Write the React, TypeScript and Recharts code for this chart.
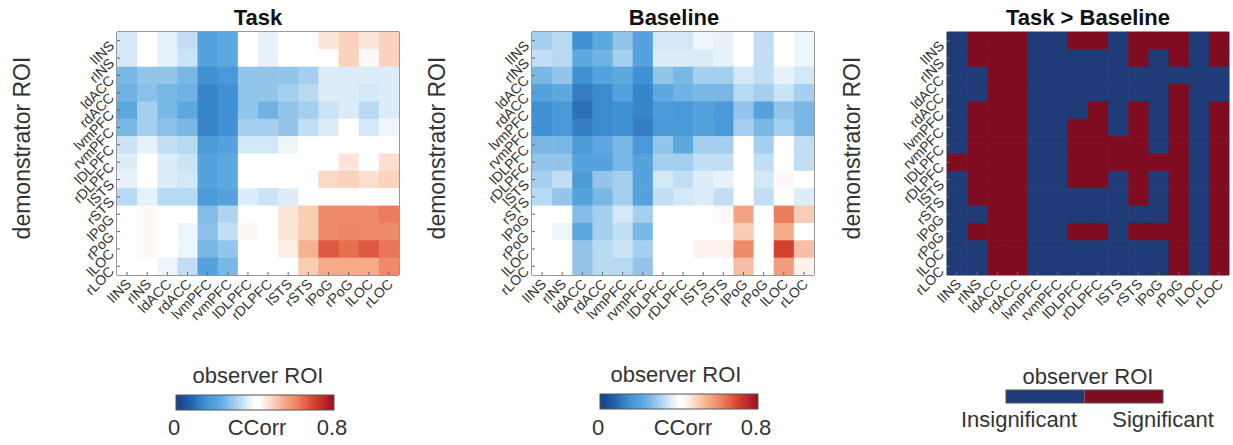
import React from 'react';
import { ScatterChart, Scatter, XAxis, YAxis, ReferenceArea } from 'recharts';

const ROIS = ['lINS', 'rINS', 'ldACC', 'rdACC', 'lvmPFC', 'rvmPFC', 'lDLPFC', 'rDLPFC', 'lSTS', 'rSTS', 'lPoG', 'rPoG', 'lLOC', 'rLOC'];

// rows = demonstrator ROI, columns = observer ROI (CCorr, 0..0.8)
const TASK = [
  [0.35, 0.40, 0.37, 0.33, 0.20, 0.22, 0.40, 0.37, 0.40, 0.40, 0.46, 0.49, 0.46, 0.49],
  [0.35, 0.40, 0.37, 0.34, 0.20, 0.22, 0.40, 0.37, 0.40, 0.40, 0.42, 0.49, 0.43, 0.49],
  [0.25, 0.28, 0.28, 0.25, 0.15, 0.17, 0.28, 0.28, 0.28, 0.30, 0.36, 0.36, 0.36, 0.36],
  [0.24, 0.27, 0.25, 0.24, 0.13, 0.15, 0.28, 0.28, 0.30, 0.32, 0.36, 0.36, 0.35, 0.36],
  [0.22, 0.30, 0.25, 0.22, 0.13, 0.15, 0.28, 0.24, 0.28, 0.30, 0.34, 0.36, 0.32, 0.36],
  [0.25, 0.30, 0.27, 0.25, 0.13, 0.15, 0.30, 0.30, 0.28, 0.33, 0.36, 0.40, 0.35, 0.38],
  [0.34, 0.37, 0.33, 0.32, 0.18, 0.20, 0.35, 0.35, 0.38, 0.40, 0.40, 0.40, 0.40, 0.40],
  [0.36, 0.40, 0.36, 0.34, 0.20, 0.22, 0.40, 0.40, 0.40, 0.40, 0.40, 0.46, 0.42, 0.47],
  [0.37, 0.40, 0.36, 0.35, 0.20, 0.22, 0.40, 0.40, 0.40, 0.40, 0.48, 0.49, 0.47, 0.49],
  [0.32, 0.37, 0.32, 0.32, 0.18, 0.20, 0.36, 0.34, 0.36, 0.40, 0.40, 0.42, 0.40, 0.41],
  [0.40, 0.43, 0.40, 0.40, 0.26, 0.31, 0.40, 0.40, 0.46, 0.50, 0.60, 0.60, 0.60, 0.62],
  [0.40, 0.43, 0.40, 0.38, 0.27, 0.33, 0.43, 0.40, 0.46, 0.50, 0.60, 0.61, 0.60, 0.60],
  [0.40, 0.43, 0.40, 0.38, 0.25, 0.28, 0.42, 0.40, 0.45, 0.54, 0.67, 0.64, 0.67, 0.63],
  [0.40, 0.40, 0.38, 0.33, 0.20, 0.25, 0.40, 0.40, 0.42, 0.50, 0.55, 0.55, 0.55, 0.60],
];

const BASELINE = [
  [0.30, 0.32, 0.15, 0.22, 0.28, 0.20, 0.35, 0.35, 0.38, 0.37, 0.40, 0.33, 0.40, 0.38],
  [0.33, 0.32, 0.22, 0.24, 0.30, 0.20, 0.36, 0.36, 0.36, 0.37, 0.40, 0.33, 0.40, 0.38],
  [0.25, 0.28, 0.15, 0.20, 0.22, 0.15, 0.28, 0.25, 0.30, 0.30, 0.35, 0.33, 0.37, 0.35],
  [0.20, 0.22, 0.12, 0.14, 0.20, 0.13, 0.22, 0.24, 0.25, 0.25, 0.32, 0.30, 0.34, 0.30],
  [0.15, 0.17, 0.10, 0.14, 0.15, 0.13, 0.18, 0.17, 0.20, 0.17, 0.28, 0.20, 0.28, 0.25],
  [0.15, 0.17, 0.12, 0.14, 0.15, 0.12, 0.17, 0.17, 0.20, 0.17, 0.30, 0.25, 0.30, 0.25],
  [0.25, 0.25, 0.18, 0.22, 0.25, 0.17, 0.28, 0.22, 0.30, 0.30, 0.40, 0.30, 0.40, 0.33],
  [0.28, 0.28, 0.20, 0.20, 0.25, 0.20, 0.30, 0.30, 0.33, 0.33, 0.40, 0.33, 0.40, 0.33],
  [0.30, 0.33, 0.18, 0.28, 0.30, 0.20, 0.35, 0.33, 0.36, 0.37, 0.40, 0.35, 0.43, 0.40],
  [0.32, 0.28, 0.20, 0.25, 0.30, 0.20, 0.33, 0.35, 0.36, 0.33, 0.40, 0.33, 0.40, 0.36],
  [0.40, 0.40, 0.26, 0.30, 0.35, 0.30, 0.40, 0.40, 0.42, 0.43, 0.56, 0.40, 0.62, 0.50],
  [0.40, 0.38, 0.22, 0.30, 0.33, 0.25, 0.40, 0.40, 0.40, 0.40, 0.50, 0.40, 0.55, 0.40],
  [0.40, 0.40, 0.28, 0.32, 0.34, 0.30, 0.40, 0.40, 0.44, 0.44, 0.60, 0.42, 0.70, 0.52],
  [0.40, 0.40, 0.28, 0.32, 0.32, 0.28, 0.40, 0.40, 0.40, 0.40, 0.52, 0.40, 0.57, 0.44],
];

// 1 = Significant, 0 = Insignificant
const SIGNIF = [
  [0, 1, 1, 1, 0, 0, 1, 1, 0, 1, 1, 1, 0, 1],
  [0, 1, 1, 1, 0, 0, 0, 0, 0, 1, 0, 1, 0, 1],
  [0, 0, 1, 1, 0, 0, 0, 0, 0, 0, 0, 0, 0, 0],
  [0, 0, 1, 1, 0, 0, 0, 0, 0, 0, 0, 1, 0, 0],
  [0, 1, 1, 1, 0, 0, 0, 1, 0, 1, 0, 1, 0, 1],
  [0, 1, 1, 1, 0, 0, 1, 1, 0, 1, 0, 1, 0, 1],
  [0, 1, 1, 1, 0, 0, 1, 1, 1, 1, 0, 1, 0, 1],
  [1, 1, 1, 1, 0, 0, 1, 1, 1, 1, 1, 1, 0, 1],
  [0, 1, 1, 1, 0, 0, 1, 1, 0, 1, 0, 1, 0, 1],
  [0, 1, 1, 1, 0, 0, 0, 0, 0, 1, 0, 1, 0, 1],
  [0, 0, 1, 1, 0, 0, 0, 0, 0, 0, 0, 1, 0, 1],
  [0, 1, 1, 1, 0, 0, 1, 1, 0, 1, 1, 1, 0, 1],
  [0, 0, 1, 1, 0, 0, 0, 0, 0, 0, 0, 1, 0, 1],
  [0, 0, 1, 1, 0, 0, 0, 0, 0, 0, 0, 1, 0, 1],
];

const TITLES = ['Task', 'Baseline', 'Task > Baseline'];
const CBAR_MIN = '0';
const CBAR_MAX = '0.8';
const CBAR_NAME = 'CCorr';
const SIG_LABELS = ['Insignificant', 'Significant'];

// colour map (value -> colour)
const CMAP: [number, string][] = [
  [0.0, '#173f88'],
  [0.08, '#2564b0'],
  [0.15, '#4192d4'],
  [0.22, '#5ea8e0'],
  [0.3, '#a5cfee'],
  [0.36, '#dcedf9'],
  [0.4, '#ffffff'],
  [0.42, '#ffffff'],
  [0.48, '#fbd9c6'],
  [0.55, '#f5aa88'],
  [0.62, '#ec7d5c'],
  [0.7, '#d4422f'],
  [0.8, '#9c0d21'],
];
const SIG_COLORS = ['#1f3c78', '#7f0c20'];

const hex = (c: string) => [1, 3, 5].map((i) => parseInt(c.slice(i, i + 2), 16));
const colorOf = (v: number) => {
  if (v <= CMAP[0][0]) return CMAP[0][1];
  for (let i = 1; i < CMAP.length; i++) {
    if (v <= CMAP[i][0]) {
      const [a, ca] = CMAP[i - 1];
      const [b, cb] = CMAP[i];
      const t = (v - a) / (b - a);
      const A = hex(ca), B = hex(cb);
      const m = A.map((x, k) => Math.round(x + (B[k] - x) * t));
      return `rgb(${m[0]},${m[1]},${m[2]})`;
    }
  }
  return CMAP[CMAP.length - 1][1];
};

const FONT = '"Liberation Sans", Arial, Helvetica, sans-serif';
const TICK_FS = 14;
const PW = 282;
const PH = 243;
const N = ROIS.length;
const CW = PW / N;
const CH = PH / N;
const IDX = ROIS.map((_, i) => i);

const toCells = (m: number[][]) => {
  const out: { x: number; y: number; v: number }[] = [];
  m.forEach((row, r) => row.forEach((v, c) => out.push({ x: c, y: r, v })));
  return out;
};

const XTick = (props: any) => {
  const { x, y, payload } = props;
  const tx = x + 5;
  const ty = y + 10;
  return (
    <g>
      <line x1={x} y1={y} x2={x} y2={y - 3} stroke="#666" strokeWidth={1} />
      <text
        x={tx}
        y={ty}
        transform={`rotate(-45 ${tx} ${ty})`}
        textAnchor="end"
        fontSize={TICK_FS}
        fontFamily={FONT}
        fill="#333"
      >
        {ROIS[payload.value]}
      </text>
    </g>
  );
};

const YTick = (props: any) => {
  const { x, y, payload } = props;
  const tx = x - 2;
  const ty = y + 6;
  return (
    <g>
      <line x1={x} y1={y} x2={x + 3} y2={y} stroke="#666" strokeWidth={1} />
      <text
        x={tx}
        y={ty}
        transform={`rotate(-45 ${tx} ${ty})`}
        textAnchor="end"
        fontSize={TICK_FS}
        fontFamily={FONT}
        fill="#333"
      >
        {ROIS[payload.value]}
      </text>
    </g>
  );
};

const Heatmap = ({ left, cells, fillOf }: { left: number; cells: any[]; fillOf: (v: number) => string }) => {
  const shape = (p: any) => (
    <rect x={p.cx - CW / 2} y={p.cy - CH / 2} width={CW + 0.6} height={CH + 0.6} fill={fillOf(p.payload.v)} />
  );
  const empty = () => <g />;
  return (
    <div style={{ position: 'absolute', left: left - 117, top: 0 }}>
      <ScatterChart width={117 + PW + 4} height={345} margin={{ top: 32, right: 4, left: 57, bottom: 10 }}>
        <XAxis
          type="number"
          dataKey="x"
          domain={[-0.5, N - 0.5]}
          ticks={IDX}
          interval={0}
          height={60}
          tickSize={0}
          tickMargin={0}
          tickLine={false}
          axisLine={{ stroke: '#777' }}
          tick={<XTick />}
          allowDataOverflow
        />
        <YAxis
          type="number"
          dataKey="y"
          domain={[-0.5, N - 0.5]}
          reversed
          ticks={IDX}
          interval={0}
          width={60}
          tickSize={0}
          tickMargin={0}
          tickLine={false}
          axisLine={{ stroke: '#777' }}
          tick={<YTick />}
          allowDataOverflow
        />
        <XAxis
          xAxisId="t"
          orientation="top"
          type="number"
          dataKey="x"
          domain={[-0.5, N - 0.5]}
          ticks={IDX}
          interval={0}
          mirror
          tickSize={3}
          tick={false}
          tickLine={{ stroke: '#666' }}
          axisLine={{ stroke: '#777' }}
          allowDataOverflow
        />
        <YAxis
          yAxisId="r"
          orientation="right"
          type="number"
          dataKey="y"
          domain={[-0.5, N - 0.5]}
          reversed
          ticks={IDX}
          interval={0}
          mirror
          tickSize={3}
          tick={false}
          tickLine={{ stroke: '#666' }}
          axisLine={{ stroke: '#777' }}
          allowDataOverflow
        />
        <Scatter data={cells} shape={shape} isAnimationActive={false} />
        <Scatter data={cells} xAxisId="t" yAxisId="r" shape={empty} isAnimationActive={false} />
        <ReferenceArea
          x1={-0.5}
          x2={N - 0.5}
          y1={-0.5}
          y2={N - 0.5}
          fill="none"
          stroke="#777"
          strokeWidth={1}
          ifOverflow="visible"
        />
      </ScatterChart>
    </div>
  );
};

const gradStops = CMAP.map(([v, c]) => ({ offset: `${(v / 0.8) * 100}%`, color: c }));

const Overlay = () => {
  const txt = { fontFamily: FONT, fill: '#222' } as any;
  const demo = [30, 445, 860];
  const titleX = [258, 674, 1088];
  return (
    <svg width={1233} height={445} style={{ position: 'absolute', left: 0, top: 0, pointerEvents: 'none' }}>
      <defs>
        <linearGradient id="cc" x1="0" x2="1" y1="0" y2="0">
          {gradStops.map((s, i) => (
            <stop key={i} offset={s.offset} stopColor={s.color} />
          ))}
        </linearGradient>
      </defs>
      {TITLES.map((t, i) => (
        <text key={t} x={titleX[i]} y={25} textAnchor="middle" fontSize={22} fontWeight="bold" {...txt} fill="#111">
          {t}
        </text>
      ))}
      {demo.map((x, i) => (
        <text key={i} x={x} y={148} transform={`rotate(-90 ${x} 148)`} textAnchor="middle" fontSize={23} {...txt} fill="#333">
          demonstrator ROI
        </text>
      ))}
      {/* panel 1 colourbar */}
      <text x={258} y={383} textAnchor="middle" fontSize={22} {...txt} fill="#333">observer ROI</text>
      <rect x={176} y={395} width={158} height={15} fill="url(#cc)" stroke="#555" strokeWidth={1} />
      <text x={174} y={435} textAnchor="middle" fontSize={22} {...txt} fill="#333">{CBAR_MIN}</text>
      <text x={257} y={435} textAnchor="middle" fontSize={22} {...txt} fill="#333">{CBAR_NAME}</text>
      <text x={332} y={435} textAnchor="middle" fontSize={22} {...txt} fill="#333">{CBAR_MAX}</text>
      {/* panel 2 colourbar */}
      <text x={676} y={382} textAnchor="middle" fontSize={22} {...txt} fill="#333">observer ROI</text>
      <rect x={600} y={394} width={158} height={15} fill="url(#cc)" stroke="#555" strokeWidth={1} />
      <text x={598} y={435} textAnchor="middle" fontSize={22} {...txt} fill="#333">{CBAR_MIN}</text>
      <text x={683} y={435} textAnchor="middle" fontSize={22} {...txt} fill="#333">{CBAR_NAME}</text>
      <text x={756} y={435} textAnchor="middle" fontSize={22} {...txt} fill="#333">{CBAR_MAX}</text>
      {/* panel 3 colourbar */}
      <text x={1088} y={384} textAnchor="middle" fontSize={22} {...txt} fill="#333">observer ROI</text>
      <rect x={1006} y={390} width={78.5} height={13} fill={SIG_COLORS[0]} />
      <rect x={1084.5} y={390} width={78.5} height={13} fill={SIG_COLORS[1]} />
      <rect x={1006} y={390} width={157} height={13} fill="none" stroke="#555" strokeWidth={1} />
      <text x={1019} y={427} textAnchor="middle" fontSize={22} {...txt} fill="#333">{SIG_LABELS[0]}</text>
      <text x={1163} y={427} textAnchor="middle" fontSize={22} {...txt} fill="#333">{SIG_LABELS[1]}</text>
    </svg>
  );
};

export default function App() {
  const taskCells = toCells(TASK);
  const baseCells = toCells(BASELINE);
  const sigCells = toCells(SIGNIF);
  return (
    <div style={{ position: 'absolute', left: 0, top: 0, width: 1233, height: 445, background: '#fff', overflow: 'hidden' }}>
      <Heatmap left={117} cells={taskCells} fillOf={colorOf} />
      <Heatmap left={532} cells={baseCells} fillOf={colorOf} />
      <Heatmap left={947} cells={sigCells} fillOf={(v) => SIG_COLORS[v]} />
      <Overlay />
    </div>
  );
}
